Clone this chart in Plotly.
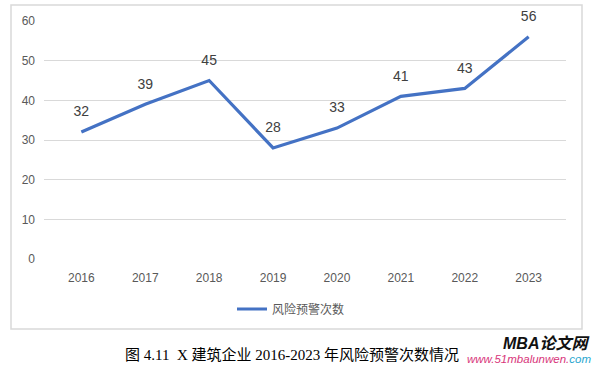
import plotly.graph_objects as go

years = ["2016", "2017", "2018", "2019", "2020", "2021", "2022", "2023"]
warnings = [32, 39, 45, 28, 33, 41, 43, 56]
y_ticks = [0, 10, 20, 30, 40, 50, 60]
series_name = "风险预警次数"
caption = "图 4.11  X 建筑企业 2016-2023 年风险预警次数情况"

W, H = 594, 365
L, R, T, B = 44, 28, 21, 106
pw, ph = W - L - R, H - T - B

def px_x(x):
    return (x - L) / pw

def px_y(y):
    return (H - B - y) / ph

fig = go.Figure()
fig.add_trace(go.Scatter(
    x=years, y=warnings, name=series_name,
    mode="lines+markers+text",
    line=dict(color="#4472C4", width=3.2),
    marker=dict(size=18, color="rgba(0,0,0,0)"),
    text=[str(v) for v in warnings],
    textposition="top center",
    textfont=dict(size=14, color="#404040", family="Liberation Sans, Noto Sans CJK SC"),
    cliponaxis=False,
    hoverinfo="skip",
))

fig.update_layout(
    width=W, height=H,
    margin=dict(l=L, r=R, t=T, b=B, autoexpand=False),
    paper_bgcolor="white", plot_bgcolor="white",
    font=dict(family="Liberation Sans, Noto Sans CJK SC", color="#595959", size=12),
    xaxis=dict(type="category", showgrid=False, zeroline=False, showline=False, automargin=False,
               ticks="", tickfont=dict(size=12, color="#595959"), ticklabelstandoff=10),
    yaxis=dict(range=[0, 60], tickvals=y_ticks, showgrid=True, gridcolor="#D9D9D9", automargin=False,
               gridwidth=1, zeroline=False, showline=False, ticks="",
               tickfont=dict(size=12, color="#595959"), ticklabelstandoff=8),
    showlegend=True,
    legend=dict(orientation="h", x=px_x(291), xanchor="center", yref="container",
                y=(H - 309) / H, yanchor="middle",
                font=dict(size=12, color="#595959", family="Noto Sans CJK SC"),
                itemwidth=30, bgcolor="rgba(0,0,0,0)"),
    shapes=[dict(type="rect", xref="paper", yref="paper",
                 x0=px_x(11), x1=px_x(582), y0=px_y(329), y1=px_y(5),
                 line=dict(color="#D9D9D9", width=1.5), fillcolor="rgba(0,0,0,0)", layer="below")],
    annotations=[
        dict(text=caption, xref="paper", yref="paper", x=px_x(292), y=px_y(354),
             xanchor="center", yanchor="middle", showarrow=False,
             font=dict(size=15, color="#000000", family="Liberation Serif, Noto Sans CJK SC")),
        dict(text="<b><i>MBA论文网</i></b>", xref="paper", yref="paper", x=px_x(591), y=px_y(343),
             xanchor="right", yanchor="middle", showarrow=False,
             font=dict(size=16, color="#111111", family="Liberation Sans, Noto Sans CJK SC")),
        dict(text="<i>www.51mbalunwen.<span style='color:#2AA7CF'>com</span></i>", xref="paper", yref="paper",
             x=px_x(593), y=px_y(359), xanchor="right", yanchor="middle", showarrow=False,
             font=dict(size=11.5, color="#D8357A", family="Liberation Sans")),
    ],
)

fig.write_html("out.html", config={"displayModeBar": False},
               post_script="document.body.style.margin='0';document.body.style.overflow='hidden';")
